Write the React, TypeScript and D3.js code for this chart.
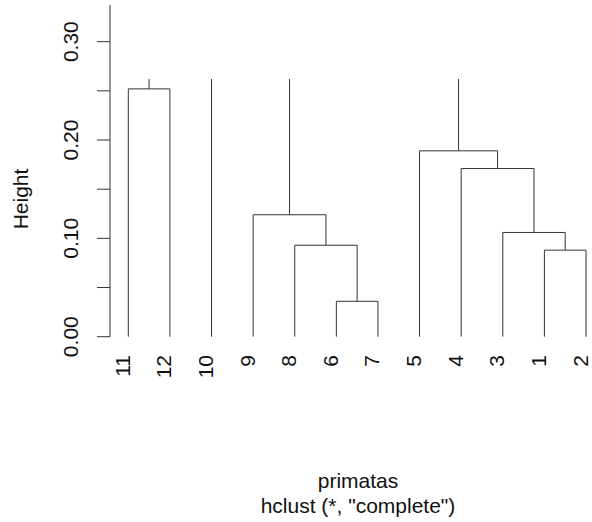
import React from "react";
import * as d3 from "d3";

// leaf order along the x axis (observation numbers)
const leafLabels = ["11", "12", "10", "9", "8", "6", "7", "5", "4", "3", "1", "2"];
// merge steps like R's hclust: negative = observation, positive = earlier step
const mergeLeft = [-6, -1, -8, -3, -9, -4, -5, -11];
const mergeRight = [-7, -2, 1, 2, 3, 4, 6, -12];
const mergeHeight = [0.036, 0.088, 0.093, 0.106, 0.124, 0.171, 0.189, 0.252];
// branches still open at the top of the plot
const topBranches = [8, -10, 5, 7];
const topHeight = 0.262;

const yTickValues = [0, 0.05, 0.1, 0.15, 0.2, 0.25, 0.3];
const yTickLabels = ["0.00", "", "0.10", "", "0.20", "", "0.30"];

const title = "primatas";
const subtitle = 'hclust (*, "complete")';
const yTitle = "Height";

const W = 592;
const H = 522;
const font = "'Liberation Sans', Arial, Helvetica, sans-serif";
const ink = "#333";

const App = () => {
  const x = d3.scalePoint<string>().domain(leafLabels).range([128.3, 586]);
  const y = d3.scaleLinear().domain([0, 0.3373]).range([336.7, 5]);

  const nodeX = (n: number): number =>
    n < 0
      ? (x(String(-n)) as number)
      : (nodeX(mergeLeft[n - 1]) + nodeX(mergeRight[n - 1])) / 2;
  const nodeH = (n: number): number => (n < 0 ? 0 : mergeHeight[n - 1]);

  const path = d3.path();
  mergeHeight.forEach((h, i) => {
    const a = mergeLeft[i];
    const b = mergeRight[i];
    path.moveTo(nodeX(a), y(nodeH(a)));
    path.lineTo(nodeX(a), y(h));
    path.lineTo(nodeX(b), y(h));
    path.lineTo(nodeX(b), y(nodeH(b)));
  });
  topBranches.forEach((n) => {
    path.moveTo(nodeX(n), y(nodeH(n)));
    path.lineTo(nodeX(n), y(topHeight));
  });

  const axisX = 110;

  return (
    <svg
      width={W}
      height={H}
      style={{ position: "absolute", left: 0, top: 0, background: "#fff" }}
      fontFamily={font}
      fontSize={21}
    >
      <path d={path.toString()} fill="none" stroke={ink} strokeWidth={1} />

      {/* y axis */}
      <line x1={axisX} x2={axisX} y1={y(0)} y2={y.range()[1]} stroke={ink} />
      {yTickValues.map((v, i) => (
        <g key={v} transform={`translate(0,${y(v)})`}>
          <line x1={axisX - 13} x2={axisX} stroke={ink} />
          {yTickLabels[i] && (
            <text
              transform={`translate(78,0) rotate(-90)`}
              textAnchor="middle"
              fill="#111"
            >
              {yTickLabels[i]}
            </text>
          )}
        </g>
      ))}
      <text
        transform={`translate(28,199) rotate(-90)`}
        textAnchor="middle"
        fill="#111"
      >
        {yTitle}
      </text>

      {/* leaf labels */}
      {leafLabels.map((l) => (
        <text
          key={l}
          transform={`translate(${(x(l) as number) + 1.5},355) rotate(-90)`}
          textAnchor="end"
          fill="#111"
        >
          {l}
        </text>
      ))}

      <text x={358} y={488} textAnchor="middle" fill="#111">
        {title}
      </text>
      <text x={358} y={513} textAnchor="middle" fill="#111">
        {subtitle}
      </text>
    </svg>
  );
};

export default App;
